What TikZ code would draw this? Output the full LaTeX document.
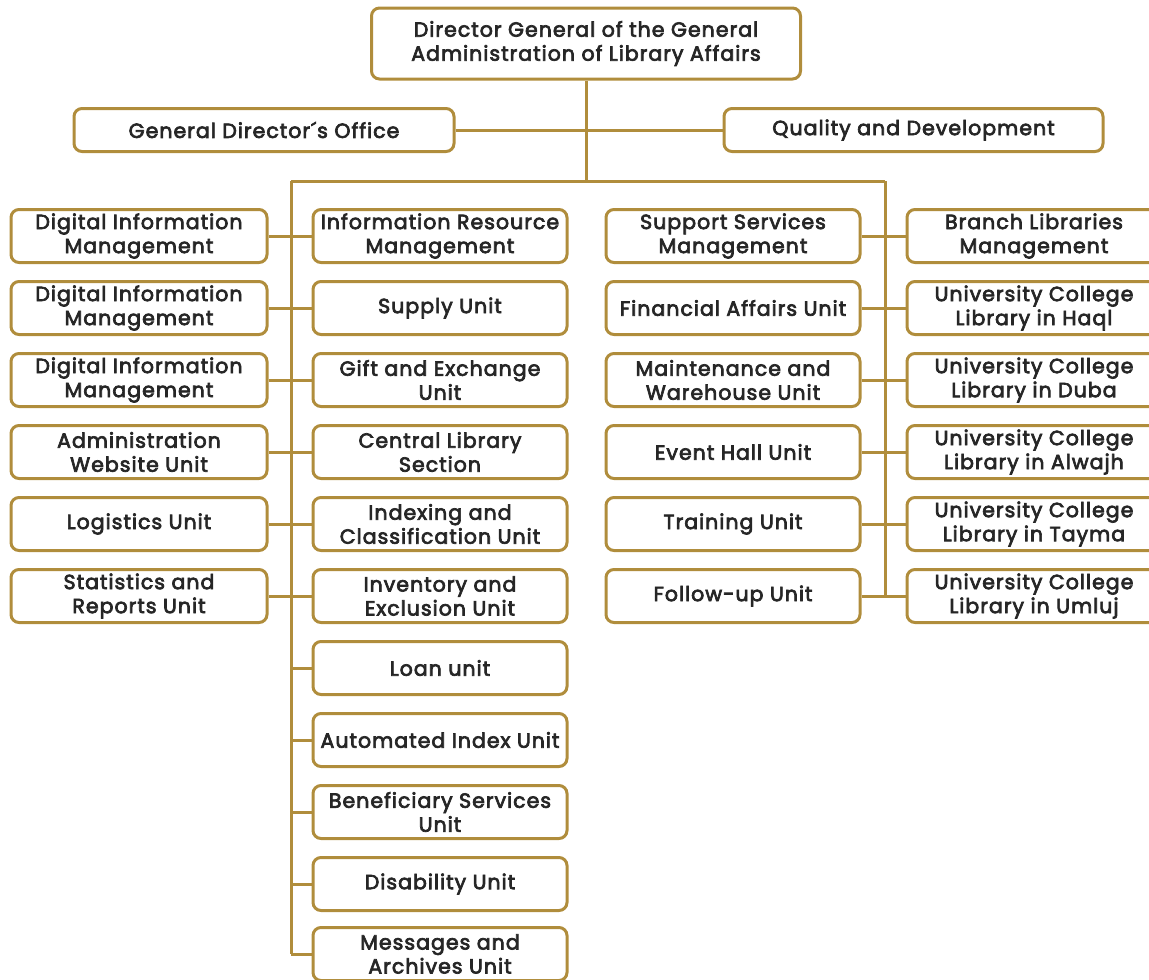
\documentclass[tikz,border=0pt]{standalone}
\usepackage{fontspec}
\setmainfont{Poppins}[RawFeature={embolden=3.4},LetterSpace=5]
\definecolor{gold}{HTML}{B08D3C}
\definecolor{ink}{HTML}{262626}
\begin{document}
\begin{tikzpicture}
    [x=1pt,y=-1pt,
     box/.style={draw=gold,line width=3pt,rounded corners=8pt,fill=white,text=ink,
       minimum width=254pt,minimum height=53pt,align=center,inner sep=1pt,
       font=\fontsize{20.5}{24}\selectfont},
     link/.style={draw=gold,line width=3pt}]
    \useasboundingbox (0,0) rectangle (1149,980);
    % spine of the chart
    \coordinate (top) at (586,181);
    \coordinate (lt) at (291,181);
    \coordinate (rt) at (885,181);
    \coordinate (lb) at (291,954);
    \coordinate (rb) at (885,596);
    \draw [link] (lt) -- (rt);
    \draw [link] (lt) -- (lb);
    \draw [link] (rt) -- (rb);
    \node [box,minimum width=429pt,minimum height=71pt] (dg) at (586,43.5)
      {Director General of the General\\Administration of Library Affairs}
      edge [link] (top);
    \node [box,minimum width=380pt,minimum height=43pt] (office) at (264,130) {General Director´s Office};
    \node [box,minimum width=379pt,minimum height=43pt] (quality) at (913.5,130) {Quality and Development}
      edge [link] (office);
    % left outer column
    \node [box,minimum width=256pt] (l1) at (139,236) {Digital Information\\Management} edge [link] (l1 -| lt);
    \node [box,minimum width=256pt] (l2) at (139,308) {Digital Information\\Management} edge [link] (l2 -| lt);
    \node [box,minimum width=256pt] (l3) at (139,380) {Digital Information\\Management} edge [link] (l3 -| lt);
    \node [box,minimum width=256pt] (l4) at (139,452) {Administration\\Website Unit} edge [link] (l4 -| lt);
    \node [box,minimum width=256pt] (l5) at (139,524) {Logistics Unit} edge [link] (l5 -| lt);
    \node [box,minimum width=256pt] (l6) at (139,596) {Statistics and\\Reports Unit} edge [link] (l6 -| lt);
    % left inner column
    \node [box] (m1) at (440,236) {Information Resource\\Management} edge [link] (m1 -| lt);
    \node [box] (m2) at (440,308) {Supply Unit} edge [link] (m2 -| lt);
    \node [box] (m3) at (440,380) {Gift and Exchange\\Unit} edge [link] (m3 -| lt);
    \node [box] (m4) at (440,452) {Central Library\\Section} edge [link] (m4 -| lt);
    \node [box] (m5) at (440,524) {Indexing and\\Classification Unit} edge [link] (m5 -| lt);
    \node [box] (m6) at (440,596) {Inventory and\\Exclusion Unit} edge [link] (m6 -| lt);
    \node [box] (m7) at (440,668) {Loan unit} edge [link] (m7 -| lt);
    \node [box] (m8) at (440,740) {Automated Index Unit} edge [link] (m8 -| lt);
    \node [box] (m9) at (440,812) {Beneficiary Services\\Unit} edge [link] (m9 -| lt);
    \node [box] (m10) at (440,884) {Disability Unit} edge [link] (m10 -| lt);
    \node [box] (m11) at (440,954) {Messages and\\Archives Unit} edge [link] (lb);
    % right inner column
    \node [box] (s1) at (733,236) {Support Services\\Management} edge [link] (s1 -| rt);
    \node [box] (s2) at (733,308) {Financial Affairs Unit} edge [link] (s2 -| rt);
    \node [box] (s3) at (733,380) {Maintenance and\\Warehouse Unit} edge [link] (s3 -| rt);
    \node [box] (s4) at (733,452) {Event Hall Unit} edge [link] (s4 -| rt);
    \node [box] (s5) at (733,524) {Training Unit} edge [link] (s5 -| rt);
    \node [box] (s6) at (733,596) {Follow-up Unit} edge [link] (rb);
    % right outer column
    \node [box] (b1) at (1034,236) {Branch Libraries\\Management} edge [link] (b1 -| rt);
    \node [box] (b2) at (1034,308) {University College\\Library in Haql} edge [link] (b2 -| rt);
    \node [box] (b3) at (1034,380) {University College\\Library in Duba} edge [link] (b3 -| rt);
    \node [box] (b4) at (1034,452) {University College\\Library in Alwajh} edge [link] (b4 -| rt);
    \node [box] (b5) at (1034,524) {University College\\Library in Tayma} edge [link] (b5 -| rt);
    \node [box] (b6) at (1034,596) {University College\\Library in Umluj} edge [link] (rb);
\end{tikzpicture}
\end{document}
